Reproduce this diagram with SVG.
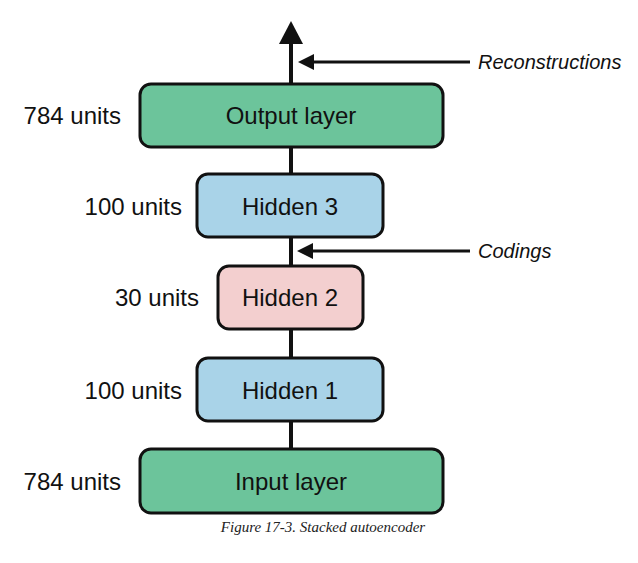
<svg xmlns="http://www.w3.org/2000/svg" width="638" height="563" viewBox="0 0 638 563">
<style>
.box{stroke:#111;stroke-width:3}
.green{fill:#6cc49b}
.blue{fill:#a9d3e8}
.pink{fill:#f3cfcf}
.lbl{font-family:"Liberation Sans",Arial,sans-serif;font-size:24px;fill:#111}
.it{font-family:"Liberation Sans",Arial,sans-serif;font-size:20px;font-style:italic;fill:#111}
.cap{font-family:"Liberation Serif","Times New Roman",serif;font-size:15px;font-style:italic;fill:#222}
.ln{stroke:#111;stroke-width:4;fill:none}
.sl{stroke:#111;stroke-width:3;fill:none}
</style>
<rect width="638" height="563" fill="#fff"/>
<g id="connectors">
<line class="ln" x1="291" y1="40" x2="291" y2="84"/>
<polygon points="291,21 279,44 303,44" fill="#111"/>
<line class="ln" x1="291" y1="147" x2="291" y2="174"/>
<line class="ln" x1="291" y1="237" x2="291" y2="266"/>
<line class="ln" x1="291" y1="329" x2="291" y2="358"/>
<line class="ln" x1="291" y1="421" x2="291" y2="449"/>
<line class="sl" x1="310" y1="62" x2="470" y2="62"/>
<polygon points="298,62 314,54 314,70" fill="#111"/>
<line class="sl" x1="310" y1="251" x2="470" y2="251"/>
<polygon points="297,251 313,243 313,259" fill="#111"/>
</g>
<g id="output">
<rect class="box green" x="140" y="84" width="303" height="63" rx="11"/>
<text class="lbl" x="291" y="124" text-anchor="middle">Output layer</text>
<text class="lbl" x="121" y="124" text-anchor="end">784 units</text>
</g>
<g id="hidden3">
<rect class="box blue" x="197" y="174" width="186" height="63" rx="11"/>
<text class="lbl" x="290" y="215" text-anchor="middle">Hidden 3</text>
<text class="lbl" x="182" y="215" text-anchor="end">100 units</text>
</g>
<g id="hidden2">
<rect class="box pink" x="218" y="266" width="145" height="63" rx="11"/>
<text class="lbl" x="290" y="306" text-anchor="middle">Hidden 2</text>
<text class="lbl" x="199" y="306" text-anchor="end">30 units</text>
</g>
<g id="hidden1">
<rect class="box blue" x="197" y="358" width="186" height="63" rx="11"/>
<text class="lbl" x="290" y="399" text-anchor="middle">Hidden 1</text>
<text class="lbl" x="182" y="399" text-anchor="end">100 units</text>
</g>
<g id="input">
<rect class="box green" x="140" y="449" width="303" height="64" rx="11"/>
<text class="lbl" x="291" y="490" text-anchor="middle">Input layer</text>
<text class="lbl" x="121" y="490" text-anchor="end">784 units</text>
</g>
<g id="annotations">
<text class="it" x="478" y="69">Reconstructions</text>
<text class="it" x="478" y="258">Codings</text>
</g>
<text class="cap" x="323" y="532" text-anchor="middle">Figure 17-3. Stacked autoencoder</text>
</svg>
